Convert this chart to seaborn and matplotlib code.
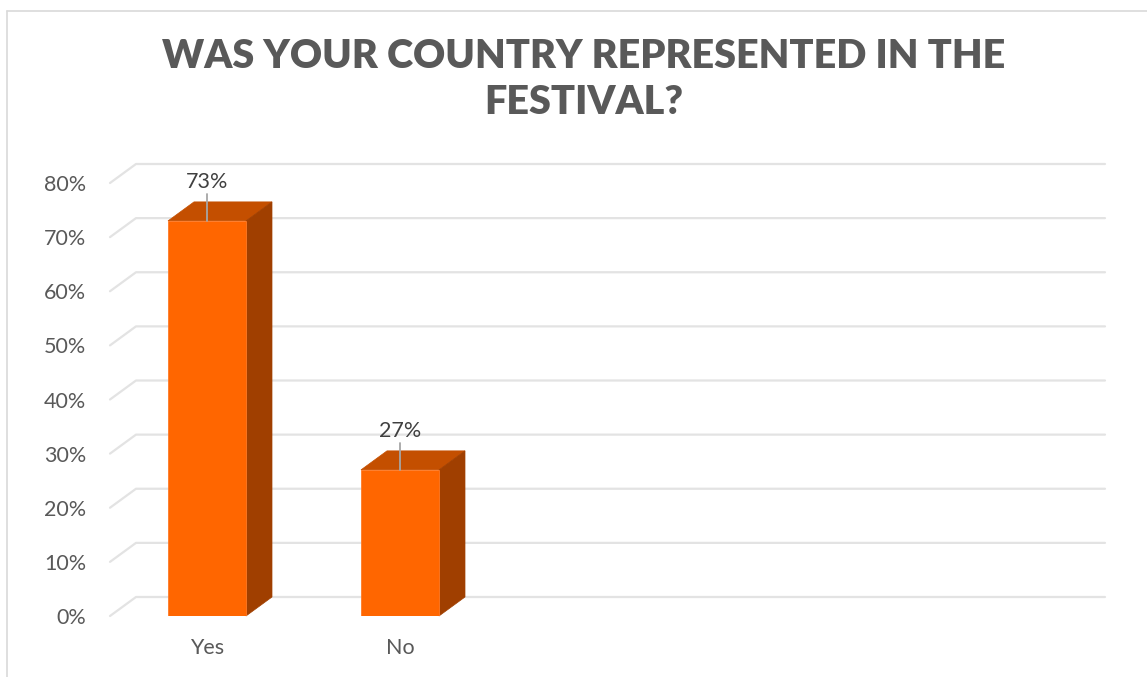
import matplotlib
matplotlib.use("Agg")
import matplotlib.pyplot as plt
import seaborn as sns
import pandas as pd
from matplotlib.patches import Polygon
from matplotlib.lines import Line2D

categories = ["Yes", "No"]
values = [73, 27]
yticks = [0, 10, 20, 30, 40, 50, 60, 70, 80]
ytick_labels = ["0%", "10%", "20%", "30%", "40%", "50%", "60%", "70%", "80%"]
title = "WAS YOUR COUNTRY REPRESENTED IN THE\nFESTIVAL?"

sns.set_theme(style="white")
plt.rcParams["font.family"] = ["Lato", "DejaVu Sans"]

W, H = 1147, 677
fig = plt.figure(figsize=(W / 100, H / 100), dpi=100)

# axes in pixel terms
left_px, right_px, bottom_px, top_px = 110, 1105, 616, 150
ax = fig.add_axes([left_px / W, 1 - bottom_px / H, (right_px - left_px) / W, (bottom_px - top_px) / H])

px_per_pct = (616 - 183) / 80.0
px_per_cat = 193.0
ymax = (bottom_px - top_px) / px_per_pct
x0 = (left_px - 207) / px_per_cat
x1 = (right_px - 207) / px_per_cat
dx = 26 / px_per_cat
dy = 19 / px_per_pct

df = pd.DataFrame({"cat": categories, "val": values})

# back-wall gridlines
for v in yticks:
    ax.add_line(Line2D([x0, x0 + dx, x1], [v, v + dy, v + dy], color="#e3e3e3", lw=1.6, zorder=0, clip_on=False))

sns.barplot(data=df, x="cat", y="val", color="#FF6600", width=78 / 193, saturation=1,
            ax=ax, zorder=3, edgecolor="#FF7A26", linewidth=0.6)

for p, v in zip(ax.patches, values):
    bx0 = p.get_x()
    bx1 = bx0 + p.get_width()
    h = p.get_height()
    top = Polygon([(bx0, h), (bx0 + dx, h + dy), (bx1 + dx, h + dy), (bx1, h)],
                  closed=True, facecolor="#C44F00", edgecolor="#C44F00", lw=0.5, zorder=2, clip_on=False)
    side = Polygon([(bx1, 0), (bx1 + dx, dy), (bx1 + dx, h + dy), (bx1, h)],
                   closed=True, facecolor="#A03F00", edgecolor="#A03F00", lw=0.5, zorder=2, clip_on=False)
    ax.add_patch(top)
    ax.add_patch(side)
    cx = (bx0 + bx1) / 2
    ax.add_line(Line2D([cx, cx], [h, h + 5.0], color="#A6A6A6", lw=1.3, zorder=4, clip_on=False))
    ax.text(cx, h + 5.4, f"{v}%", ha="center", va="bottom", fontsize=15.5, color="#404040", zorder=5)

ax.set_xlim(x0, x1)
ax.set_ylim(0, ymax)
ax.set_yticks(yticks)
ax.set_yticklabels(ytick_labels)
ax.set_xlabel("")
ax.set_ylabel("")
ax.tick_params(axis="y", length=0, pad=17, labelsize=15.5, labelcolor="#595959")
ax.tick_params(axis="x", length=0, pad=16, labelsize=15.5, labelcolor="#595959")
for s in ax.spines.values():
    s.set_visible(False)
ax.grid(False)

fig.text(584 / W, 1 - 79 / H, title, ha="center", va="center", fontsize=28.5, fontweight="heavy",
         color="#595959", linespacing=1.3)

# outer chart border (partially cropped)
fig.add_artist(Line2D([7 / W, 1], [1 - 11 / H, 1 - 11 / H], transform=fig.transFigure, color="#d9d9d9", lw=1.2))
fig.add_artist(Line2D([7 / W, 7 / W], [1 - 11 / H, 0], transform=fig.transFigure, color="#d9d9d9", lw=1.2))

fig.savefig("out.png", dpi=100, facecolor="white")
